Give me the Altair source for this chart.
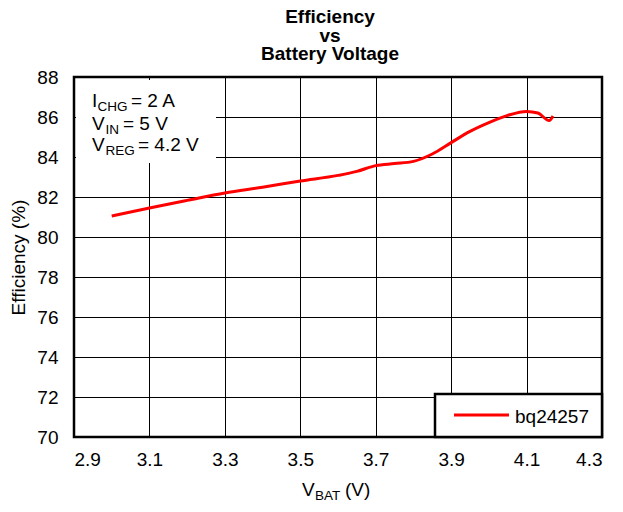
import altair as alt
import pandas as pd

# ---- data ----
vbat = [3.0, 3.1, 3.2, 3.3, 3.4, 3.5, 3.6, 3.65, 3.7, 3.75, 3.8, 3.85, 3.9, 3.95, 4.0, 4.05, 4.1, 4.13, 4.16, 4.17]
efficiency = [81.05, 81.45, 81.83, 82.2, 82.49, 82.8, 83.08, 83.28, 83.57, 83.67, 83.78, 84.15, 84.72, 85.28, 85.72, 86.08, 86.28, 86.2, 85.82, 86.05]
series_name = "bq24257"
x_ticks = [2.9, 3.1, 3.3, 3.5, 3.7, 3.9, 4.1, 4.3]
y_ticks = [70, 72, 74, 76, 78, 80, 82, 84, 86, 88]
title_lines = ["Efficiency", "vs", "Battery Voltage"]
y_title = "Efficiency (%)"

FONT = "Liberation Sans"
RED = "#ff0000"
W, H = 528, 360

df = pd.DataFrame({"vbat": vbat, "eff": efficiency, "order": range(len(vbat)), "series": series_name})

line = alt.Chart(df).mark_line(color=RED, strokeWidth=3, interpolate="monotone").encode(
    x=alt.X("vbat:Q",
            scale=alt.Scale(domain=[2.9, 4.3], nice=False, zero=False),
            axis=alt.Axis(values=x_ticks, format=".1f", title=None, grid=True,
                          labelPadding=13)),
    y=alt.Y("eff:Q",
            scale=alt.Scale(domain=[70, 88], nice=False, zero=False),
            axis=alt.Axis(values=y_ticks, title=y_title, grid=True,
                          labelPadding=16, titlePadding=8,
                          titleFont=FONT, titleFontSize=19, titleFontWeight="normal",
                          titleColor="black")),
    order="order:Q",
)

# ---- annotation pieces (text with subscripts), pixels relative to the plot area ----
notes = pd.DataFrame({
    "text": ["I", "CHG", "= 2 A",
             "V", "IN", "= 5 V",
             "V", "REG", "= 4.2 V",
             "V", "BAT", "(V)",
             series_name],
    "px": [18, 23.5, 57,
           18, 31.5, 49,
           18, 31.5, 64,
           228, 241, 271,
           441],
    "py": [30, 34, 30,
           53, 57, 53,
           74, 78, 74,
           419, 423, 419,
           346],
    "size": [19, 13.5, 19,
             19, 13.5, 19,
             19, 13.5, 19,
             19, 13.5, 19,
             19],
})

white_box = alt.Chart(pd.DataFrame({"x1": [2], "x2": [142], "y1": [3], "y2": [86]})).mark_rect(
    fill="white", stroke=None).encode(
    x=alt.X("x1:Q", scale=None, axis=None), x2="x2:Q",
    y=alt.Y("y1:Q", scale=None, axis=None), y2="y2:Q")

note_text = alt.Chart(notes).mark_text(align="left", baseline="alphabetic", font=FONT, color="black").encode(
    x=alt.X("px:Q", scale=None, axis=None),
    y=alt.Y("py:Q", scale=None, axis=None),
    size=alt.Size("size:Q", scale=None, legend=None),
    text="text:N",
)

legend_box = alt.Chart(pd.DataFrame({"x1": [361], "x2": [W], "y1": [317], "y2": [H]})).mark_rect(
    fill="white", stroke="black", strokeWidth=2.5).encode(
    x=alt.X("x1:Q", scale=None, axis=None), x2="x2:Q",
    y=alt.Y("y1:Q", scale=None, axis=None), y2="y2:Q")

legend_line = alt.Chart(pd.DataFrame({"x1": [380], "x2": [435], "y1": [338]})).mark_rule(
    color=RED, strokeWidth=3).encode(
    x=alt.X("x1:Q", scale=None, axis=None), x2="x2:Q",
    y=alt.Y("y1:Q", scale=None, axis=None))

chart = alt.layer(white_box, line, legend_box, legend_line, note_text).resolve_scale(
    x="independent", y="independent"
).properties(
    width=W, height=H,
    background="white",
    autosize=alt.AutoSizeParams(type="none"),
    padding={"left": 66, "top": 69, "right": 13, "bottom": 67},
    title=alt.TitleParams(title_lines, anchor="middle", frame="group", font=FONT, fontSize=19,
                          fontWeight="bold", color="black", lineHeight=18.5, offset=4, dx=-8),
).configure_view(
    stroke="black", strokeWidth=2.5
).configure_axis(
    gridColor="black", gridOpacity=1, gridWidth=1,
    domain=False, ticks=False,
    labelFont=FONT, labelFontSize=19, labelColor="black",
)

chart.save("out.html", embed_options={"renderer": "svg", "actions": False})
